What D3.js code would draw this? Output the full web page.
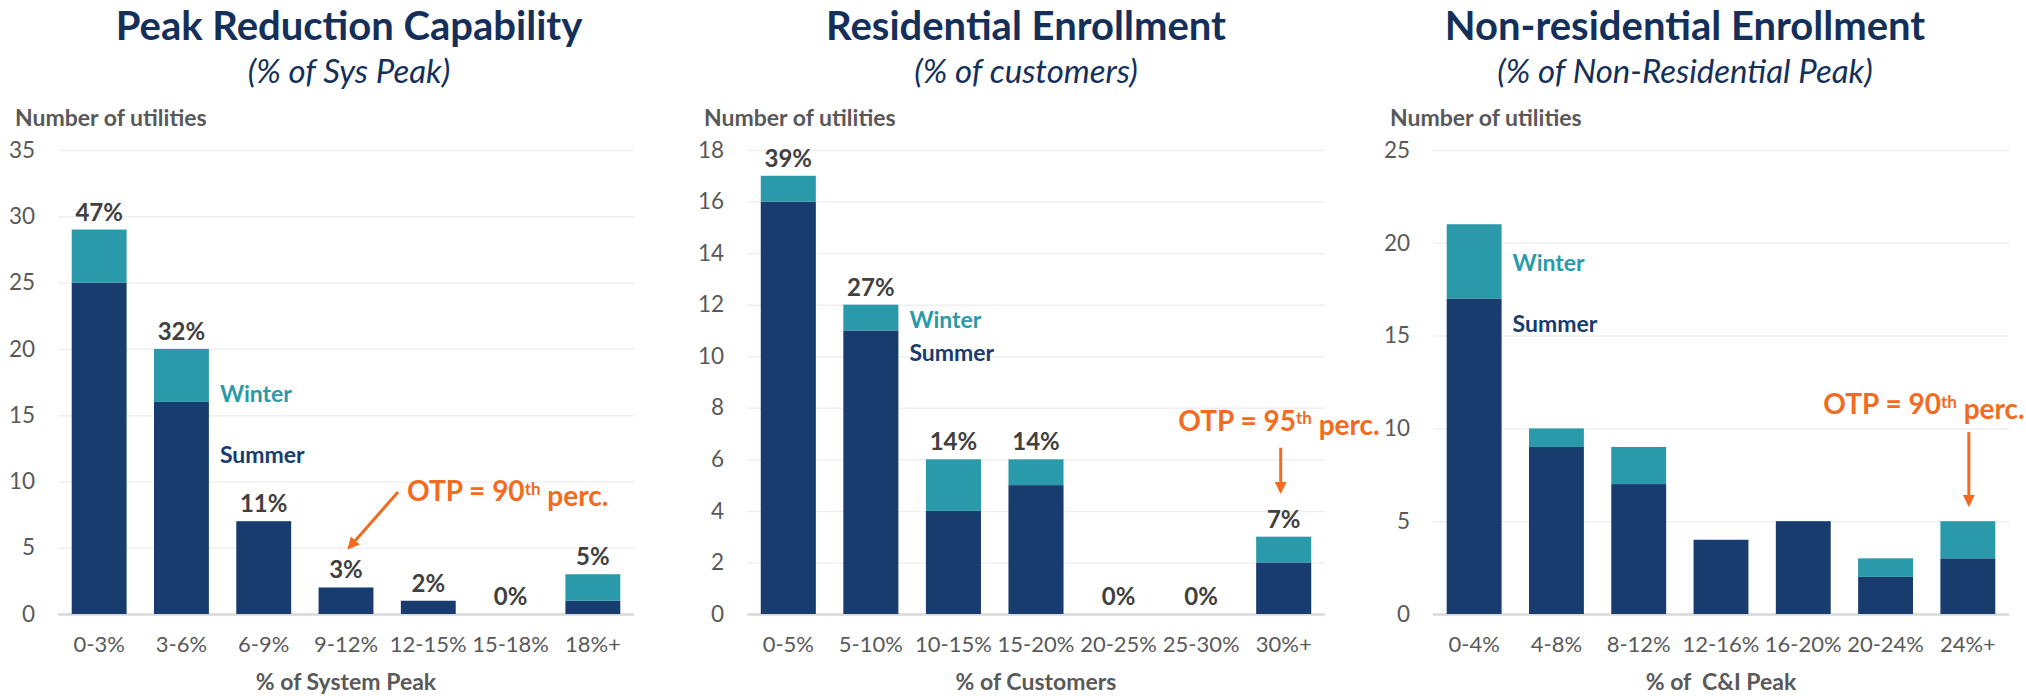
<!DOCTYPE html>
<html>
<script src='https://d3js.org/d3.v7.min.js'></script>
<style>
body { margin: 0; background: white; }
svg { font-family: Lato, "Open Sans", sans-serif; }
</style>
<body>
<svg width=2026 height=696></svg>
<script>

// Peak reduction capability (% of sys peak)
var cats1 = ["0-3%","3-6%","6-9%","9-12%","12-15%","15-18%","18%+"];
var summer1 = [25,16,7,2,1,0,1];
var winter1 = [4,4,0,0,0,0,2];
var pct1 = ["47%","32%","11%","3%","2%","0%","5%"];
var ticks1 = [0,5,10,15,20,25,30,35];

// Residential enrollment (% of customers)
var cats2 = ["0-5%","5-10%","10-15%","15-20%","20-25%","25-30%","30%+"];
var summer2 = [16,11,4,5,0,0,2];
var winter2 = [1,1,2,1,0,0,1];
var pct2 = ["39%","27%","14%","14%","0%","0%","7%"];
var ticks2 = [0,2,4,6,8,10,12,14,16,18];

// Non-residential enrollment (% of non-res peak)
var cats3 = ["0-4%","4-8%","8-12%","12-16%","16-20%","20-24%","24%+"];
var summer3 = [17,9,7,4,5,2,3];
var winter3 = [4,1,2,0,0,1,2];
var ticks3 = [0,5,10,15,20,25];

var navy = "#173c6d", teal = "#2a99a9", orange = "#f26b21", title = "#14305a";
var grey = "#595959";

var svg = d3.select("svg");

svg.append("defs").append("marker")
  .attr("id","head").attr("viewBox","0 0 10 10")
  .attr("refX",8).attr("refY",5)
  .attr("markerWidth",4).attr("markerHeight",4)
  .attr("orient","auto")
  .append("path").attr("d","M0,0L10,5L0,10z").attr("fill",orange);

function panel(p) {
  var x = d3.scaleBand().domain(p.cats).range([p.left,p.right]).paddingInner(0.333).paddingOuter(0.1667);
  var y = d3.scaleLinear().domain([0,d3.max(p.ticks)]).range([614,150]);
  var g = svg.append("g");

  // titles
  g.append("text").attr("x",p.tx).attr("y",40).attr("text-anchor","middle")
    .attr("font-weight",700).attr("font-size","40px").attr("fill",title).text(p.title);
  g.append("text").attr("x",p.tx).attr("y",83).attr("text-anchor","middle")
    .attr("font-style","italic").attr("font-size","33px").attr("fill",title).text(p.sub);
  g.append("text").attr("x",p.left-43).attr("y",126)
    .attr("font-weight",700).attr("font-size","23px").attr("fill",grey).text("Number of utilities");

  // gridlines + y labels
  var ax = g.append("g").attr("transform","translate("+p.left+",0)")
    .call(d3.axisLeft(y).tickValues(p.ticks).tickSize(-(p.right-p.left)).tickPadding(23));
  ax.select(".domain").remove();
  ax.selectAll(".tick line").attr("stroke","#efefef").attr("stroke-width",1.5);
  ax.selectAll(".tick text").attr("font-family","Lato").attr("font-size","22.5px").attr("fill",grey);
  ax.selectAll(".tick").filter(function(d){return d==0;}).select("line")
    .attr("stroke","#d9d9d9").attr("stroke-width",2.5);

  // bars
  var rows = p.cats.map(function(c,i){ return {c:c, s:p.summer[i], w:p.winter[i]}; });
  g.selectAll(".s").data(rows).enter().append("rect")
    .attr("x",d=>x(d.c)).attr("width",x.bandwidth())
    .attr("y",d=>y(d.s)).attr("height",d=>y(0)-y(d.s)).attr("fill",navy);
  g.selectAll(".w").data(rows).enter().append("rect")
    .attr("x",d=>x(d.c)).attr("width",x.bandwidth())
    .attr("y",d=>y(d.s+d.w)).attr("height",d=>y(d.s)-y(d.s+d.w)).attr("fill",teal);

  if (p.pct) {
    g.selectAll(".lab").data(rows).enter().append("text")
      .attr("x",d=>x(d.c)+x.bandwidth()/2).attr("y",d=>y(d.s+d.w)-9)
      .attr("text-anchor","middle").attr("font-weight",700).attr("font-size","24px").attr("fill","#404040")
      .text((d,i)=>p.pct[i]);
  }

  // x labels
  g.selectAll(".xl").data(p.cats).enter().append("text")
    .attr("x",d=>x(d)+x.bandwidth()/2).attr("y",652)
    .attr("text-anchor","middle").attr("font-size","22px").attr("fill",grey).text(d=>d);
  g.append("text").attr("x",(p.left+p.right)/2).attr("y",690).attr("text-anchor","middle")
    .attr("font-weight",700).attr("font-size","23px").attr("fill",grey)
    .style("white-space","pre").text(p.xtitle);

  // season labels
  var lx = x(p.cats[p.lab]) + x.bandwidth() + 11;
  g.append("text").attr("x",lx).attr("y",y(p.winY)).attr("font-weight",700).attr("font-size","23px")
    .attr("fill",teal).text("Winter");
  g.append("text").attr("x",lx).attr("y",y(p.sumY)).attr("font-weight",700).attr("font-size","23px")
    .attr("fill",navy).text("Summer");

  // OTP callout
  var t = g.append("text").attr("x",p.otp.x).attr("y",y(p.otp.ty)).attr("text-anchor",p.otp.anchor)
    .attr("font-weight",700).attr("font-size","28px").attr("fill",orange);
  t.append("tspan").text("OTP = " + p.otp.n);
  t.append("tspan").attr("dy","-0.4em").attr("font-size","17px").text("th");
  t.append("tspan").attr("dy","0.4em").text(" perc.");
  var bx = x(p.cats[p.otp.bar]) + x.bandwidth()/2;
  g.append("line").attr("x1",bx + p.otp.dx1).attr("y1",y(p.otp.y1))
    .attr("x2",bx + p.otp.dx2).attr("y2",y(p.otp.y2))
    .attr("stroke",orange).attr("stroke-width",3).attr("marker-end","url(#head)");
}

panel({cats:cats1, summer:summer1, winter:winter1, pct:pct1, ticks:ticks1,
  left:58, right:634, tx:349, title:"Peak Reduction Capability", sub:"(% of Sys Peak)",
  xtitle:"% of System Peak", lab:1, winY:16, sumY:11.4,
  otp:{n:"90", x:407, ty:8.5, anchor:"start", bar:3, dx1:52, dx2:3, y1:9.2, y2:5}});

panel({cats:cats2, summer:summer2, winter:winter2, pct:pct2, ticks:ticks2,
  left:747, right:1325, tx:1026, title:"Residential Enrollment", sub:"(% of customers)",
  xtitle:"% of Customers", lab:1, winY:11.1, sumY:9.8,
  otp:{n:"95", x:1279, ty:7.1, anchor:"middle", bar:6, dx1:-3, dx2:-3, y1:6.45, y2:4.75}});

panel({cats:cats3, summer:summer3, winter:winter3, pct:null, ticks:ticks3,
  left:1433, right:2009, tx:1685, title:"Non-residential Enrollment", sub:"(% of Non-Residential Peak)",
  xtitle:"% of  C&I Peak", lab:0, winY:18.5, sumY:15.2,
  otp:{n:"90", x:1924, ty:10.75, anchor:"middle", bar:6, dx1:1, dx2:1, y1:9.8, y2:5.9}});

</script>
</body>
</html>
